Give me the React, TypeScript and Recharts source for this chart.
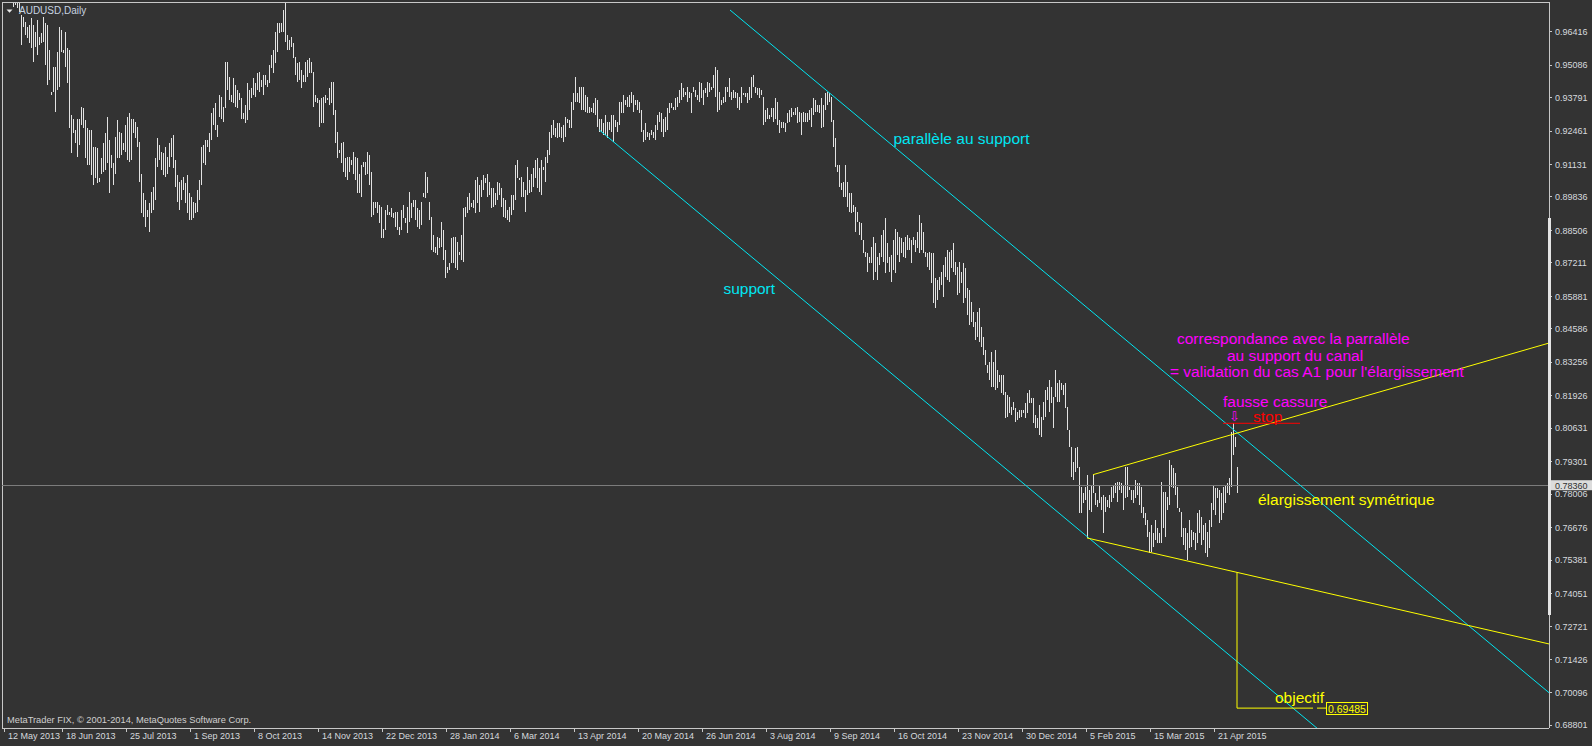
import React from 'react';
import { ComposedChart, Bar, XAxis, YAxis, ReferenceLine, ReferenceDot } from 'recharts';

const W = 1592;
const H = 746;
const BG = '#333333';
const FRAME = '#c8c8c8';
const AXIS_TEXT = '#d6dade';
const BAR_COLOR = '#e2e2e2';
const CYAN = '#00e6f2';
const MAGENTA = '#ff00ff';
const YELLOW = '#ffff00';
const RED = '#ff0000';
const FONT = '"Liberation Sans", Arial, sans-serif';

// first daily bar index drawn (index 0 = 12 May 2013)
const FIRST_BAR = 5;

const highs = [
  0.9830, 0.9790, 0.9770, 0.9775, 0.9708, 0.9701, 0.9681, 0.9662, 0.9668, 0.9695,
  0.9668, 0.9642, 0.9688, 0.9622, 0.9635, 0.9701, 0.9675, 0.9668, 0.9568, 0.9403,
  0.9502, 0.9502, 0.9562, 0.9662, 0.9648, 0.9568, 0.9642, 0.9575, 0.9568, 0.9310,
  0.9296, 0.9250, 0.9296, 0.9296, 0.9343, 0.9336, 0.9290, 0.9257, 0.9250, 0.9250,
  0.9184, 0.9184, 0.9177, 0.9058, 0.9137, 0.9197, 0.9237, 0.9303, 0.9210, 0.9150,
  0.9117, 0.9223, 0.9290, 0.9243, 0.9237, 0.9197, 0.9270, 0.9303, 0.9316, 0.9296,
  0.9296, 0.9283, 0.9263, 0.9204, 0.9077, 0.8998, 0.8971, 0.8931, 0.8958, 0.9004,
  0.9024, 0.9137, 0.9217, 0.9190, 0.9164, 0.9157, 0.9184, 0.9144, 0.9197, 0.9217,
  0.9230, 0.9130, 0.9071, 0.9044, 0.9051, 0.9064, 0.9038, 0.9071, 0.8998, 0.8985,
  0.8965, 0.8958, 0.9011, 0.9051, 0.9184, 0.9190, 0.9210, 0.9210, 0.9237, 0.9316,
  0.9336, 0.9356, 0.9270, 0.9389, 0.9383, 0.9343, 0.9522, 0.9522, 0.9462, 0.9389,
  0.9456, 0.9429, 0.9409, 0.9396, 0.9376, 0.9316, 0.9350, 0.9436, 0.9409, 0.9416,
  0.9456, 0.9436, 0.9476, 0.9482, 0.9449, 0.9469, 0.9469, 0.9449, 0.9509, 0.9548,
  0.9568, 0.9642, 0.9675, 0.9675, 0.9675, 0.9728, 0.9757, 0.9628, 0.9608, 0.9622,
  0.9595, 0.9542, 0.9515, 0.9522, 0.9489, 0.9469, 0.9522, 0.9529, 0.9535, 0.9522,
  0.9482, 0.9389, 0.9376, 0.9370,
  0.9376, 0.9383, 0.9389, 0.9376, 0.9416, 0.9443, 0.9443, 0.9330, 0.9243, 0.9170,
  0.9197, 0.9204, 0.9137, 0.9144, 0.9144, 0.9130, 0.9164, 0.9144, 0.9137, 0.9077,
  0.9111, 0.9124, 0.9124, 0.9164, 0.9150, 0.9084, 0.8965, 0.8965, 0.8965, 0.8951,
  0.8945, 0.8858, 0.8931, 0.8951, 0.8925, 0.8938, 0.8918, 0.8925, 0.8925, 0.8865,
  0.8931, 0.8951, 0.8898, 0.8945, 0.9004, 0.8958, 0.8971, 0.8971, 0.8938, 0.8931,
  0.8965, 0.8998, 0.9084, 0.9064, 0.8965, 0.8905, 0.8832, 0.8785, 0.8825, 0.8819,
  0.8885, 0.8852, 0.8772, 0.8706, 0.8719, 0.8819, 0.8825, 0.8825, 0.8805, 0.8766,
  0.8832, 0.8938, 0.8945, 0.8985, 0.8998, 0.8958, 0.8971, 0.9051, 0.9064, 0.9031,
  0.9051, 0.9071, 0.9058, 0.9077, 0.9044, 0.9018, 0.9018, 0.8998, 0.9044, 0.9038,
  0.9018, 0.8978, 0.8971, 0.8931, 0.8945, 0.8991, 0.8991, 0.9111, 0.9130, 0.9058,
  0.9064, 0.9044, 0.9011, 0.9104, 0.9051, 0.9077, 0.9097, 0.9130, 0.9137, 0.9097,
  0.9130, 0.9104, 0.9144, 0.9170, 0.9243, 0.9270, 0.9290, 0.9257, 0.9277, 0.9277,
  0.9263, 0.9270, 0.9303, 0.9296, 0.9290, 0.9363, 0.9396, 0.9462, 0.9396, 0.9423,
  0.9423, 0.9423, 0.9389, 0.9383, 0.9343, 0.9336, 0.9356, 0.9376, 0.9370, 0.9296,
  0.9296, 0.9277, 0.9310, 0.9283, 0.9283, 0.9310, 0.9310, 0.9290, 0.9283, 0.9363,
  0.9363, 0.9389, 0.9370, 0.9383, 0.9389,
  0.9403, 0.9389, 0.9370, 0.9370, 0.9363, 0.9330, 0.9250, 0.9277, 0.9243, 0.9237,
  0.9250, 0.9243, 0.9270, 0.9310, 0.9323, 0.9316, 0.9296, 0.9303, 0.9336, 0.9356,
  0.9356, 0.9343, 0.9376, 0.9383, 0.9409, 0.9436, 0.9416, 0.9403, 0.9423, 0.9403,
  0.9396, 0.9423, 0.9409, 0.9389, 0.9443, 0.9436, 0.9409, 0.9416, 0.9443, 0.9436,
  0.9423, 0.9469, 0.9502, 0.9489, 0.9403, 0.9370, 0.9383, 0.9423, 0.9423, 0.9456,
  0.9403, 0.9409, 0.9403, 0.9396, 0.9383, 0.9423, 0.9396, 0.9396, 0.9396, 0.9423,
  0.9462, 0.9469, 0.9423, 0.9416, 0.9416, 0.9409, 0.9383, 0.9330, 0.9336, 0.9310,
  0.9336, 0.9336, 0.9376, 0.9363, 0.9290, 0.9283, 0.9283, 0.9277, 0.9316, 0.9330,
  0.9336, 0.9323, 0.9336, 0.9343, 0.9323, 0.9316, 0.9323, 0.9316, 0.9316, 0.9330,
  0.9336, 0.9376, 0.9370, 0.9350, 0.9350, 0.9376, 0.9350, 0.9396, 0.9403, 0.9396,
  0.9383, 0.9290, 0.9217, 0.9111, 0.9111, 0.9038, 0.9044, 0.9111, 0.9044, 0.8998,
  0.8998, 0.8951, 0.8945, 0.8925, 0.8885, 0.8878, 0.8812, 0.8766, 0.8759, 0.8746,
  0.8785, 0.8825, 0.8799, 0.8746, 0.8759, 0.8832, 0.8852, 0.8898, 0.8799, 0.8746,
  0.8752, 0.8812, 0.8858, 0.8845, 0.8825, 0.8819, 0.8805, 0.8825, 0.8832, 0.8819,
  0.8812, 0.8825, 0.8812, 0.8845, 0.8912, 0.8878, 0.8845, 0.8766, 0.8759, 0.8766,
  0.8759, 0.8759, 0.8660, 0.8653, 0.8666, 0.8686, 0.8713, 0.8746, 0.8772, 0.8766,
  0.8772, 0.8799, 0.8726, 0.8706, 0.8726, 0.8686, 0.8719, 0.8699, 0.8620, 0.8613,
  0.8567, 0.8527, 0.8487, 0.8527, 0.8540, 0.8467, 0.8427, 0.8374, 0.8315, 0.8328,
  0.8368, 0.8328, 0.8374, 0.8295, 0.8275, 0.8275, 0.8275, 0.8208, 0.8195, 0.8188,
  0.8149, 0.8168, 0.8142, 0.8129, 0.8135, 0.8135, 0.8135, 0.8162, 0.8202, 0.8215,
  0.8182, 0.8182, 0.8115, 0.8102, 0.8155, 0.8109, 0.8168, 0.8215, 0.8228, 0.8255,
  0.8228, 0.8188, 0.8295, 0.8242, 0.8255, 0.8242, 0.8235, 0.8242, 0.8149, 0.8056,
  0.7989, 0.7930, 0.7983, 0.7989, 0.7910, 0.7830, 0.7804, 0.7830, 0.7877, 0.7817,
  0.7837, 0.7877, 0.7804, 0.7777, 0.7837, 0.7790, 0.7797, 0.7790, 0.7777, 0.7797,
  0.7830, 0.7837, 0.7843, 0.7850, 0.7850, 0.7843, 0.7837, 0.7910, 0.7910, 0.7830,
  0.7817, 0.7817, 0.7857, 0.7843, 0.7843, 0.7830, 0.7751, 0.7724, 0.7698, 0.7651,
  0.7678, 0.7645, 0.7698, 0.7664, 0.7645, 0.7850, 0.7810, 0.7810, 0.7790, 0.7936,
  0.7916, 0.7903, 0.7883, 0.7830, 0.7744, 0.7731, 0.7664, 0.7664, 0.7645, 0.7698,
  0.7658, 0.7651, 0.7645, 0.7724, 0.7737, 0.7711, 0.7678, 0.7684, 0.7651, 0.7698,
  0.7764, 0.7837, 0.7824, 0.7824, 0.7817, 0.7804, 0.7830, 0.7837, 0.7843, 0.7863,
  0.8049, 0.8082, 0.8029, 0.7910,
];

const lows = [
  0.9741, 0.9748, 0.9735, 0.9721, 0.9588, 0.9662, 0.9628, 0.9615, 0.9595, 0.9575,
  0.9522, 0.9582, 0.9548, 0.9588, 0.9595, 0.9602, 0.9509, 0.9429, 0.9449, 0.9389,
  0.9403, 0.9323, 0.9409, 0.9423, 0.9562, 0.9555, 0.9502, 0.9436, 0.9257, 0.9157,
  0.9237, 0.9197, 0.9144, 0.9190, 0.9270, 0.9257, 0.9137, 0.9111, 0.9111, 0.9071,
  0.9031, 0.9058, 0.9038, 0.9044, 0.9077, 0.9084, 0.9091, 0.9117, 0.8998, 0.9097,
  0.9031, 0.9077, 0.9137, 0.9137, 0.9150, 0.9170, 0.9164, 0.9130, 0.9124, 0.9130,
  0.9237, 0.9217, 0.9184, 0.9044, 0.8918, 0.8905, 0.8865, 0.8905, 0.8845, 0.8918,
  0.8931, 0.8971, 0.9104, 0.9130, 0.9091, 0.9071, 0.9064, 0.9077, 0.9104, 0.9144,
  0.9097, 0.9024, 0.8965, 0.8931, 0.8971, 0.9011, 0.8958, 0.8918, 0.8892, 0.8892,
  0.8898, 0.8918, 0.8925, 0.8971, 0.9031, 0.9117, 0.9111, 0.9184, 0.9164, 0.9210,
  0.9270, 0.9250, 0.9223, 0.9303, 0.9296, 0.9283, 0.9336, 0.9409, 0.9370, 0.9363,
  0.9356, 0.9343, 0.9336, 0.9370, 0.9296, 0.9296, 0.9277, 0.9290, 0.9330, 0.9376,
  0.9389, 0.9383, 0.9409, 0.9403, 0.9423, 0.9389, 0.9429, 0.9423, 0.9436, 0.9496,
  0.9476, 0.9515, 0.9562, 0.9635, 0.9642, 0.9642, 0.9602, 0.9568, 0.9568, 0.9582,
  0.9535, 0.9469, 0.9443, 0.9449, 0.9416, 0.9443, 0.9443, 0.9462, 0.9476, 0.9476,
  0.9343, 0.9363, 0.9356, 0.9263,
  0.9277, 0.9277, 0.9356, 0.9370, 0.9350, 0.9356, 0.9310, 0.9197, 0.9137, 0.9157,
  0.9117, 0.9084, 0.9064, 0.9051, 0.9084, 0.9111, 0.9077, 0.9051, 0.8998, 0.8998,
  0.8985, 0.9104, 0.9071, 0.9077, 0.9031, 0.8905, 0.8912, 0.8938, 0.8918, 0.8878,
  0.8819, 0.8819, 0.8852, 0.8912, 0.8912, 0.8905, 0.8898, 0.8865, 0.8852, 0.8832,
  0.8852, 0.8898, 0.8878, 0.8839, 0.8885, 0.8898, 0.8945, 0.8892, 0.8865, 0.8858,
  0.8872, 0.8985, 0.8978, 0.8998, 0.8892, 0.8772, 0.8766, 0.8759, 0.8752, 0.8779,
  0.8785, 0.8733, 0.8660, 0.8680, 0.8693, 0.8719, 0.8719, 0.8699, 0.8693, 0.8752,
  0.8733, 0.8726, 0.8905, 0.8918, 0.8931, 0.8945, 0.8938, 0.8918, 0.8958, 0.8925,
  0.8985, 0.9011, 0.9038, 0.8985, 0.8991, 0.8938, 0.8945, 0.8951, 0.8971, 0.8991,
  0.8945, 0.8905, 0.8898, 0.8892, 0.8885, 0.8912, 0.8931, 0.8971, 0.9058, 0.9051,
  0.8985, 0.8985, 0.8925, 0.8991, 0.8998, 0.9004, 0.9024, 0.9058, 0.9018, 0.9004,
  0.8991, 0.9091, 0.9044, 0.9117, 0.9150, 0.9217, 0.9230, 0.9223, 0.9217, 0.9223,
  0.9217, 0.9204, 0.9223, 0.9277, 0.9257, 0.9257, 0.9330, 0.9363, 0.9363, 0.9356,
  0.9330, 0.9330, 0.9323, 0.9316, 0.9316, 0.9323, 0.9316, 0.9310, 0.9263, 0.9243,
  0.9243, 0.9230, 0.9230, 0.9217, 0.9250, 0.9243, 0.9204, 0.9263, 0.9243, 0.9270,
  0.9316, 0.9316, 0.9350, 0.9343, 0.9343,
  0.9356, 0.9323, 0.9350, 0.9330, 0.9316, 0.9243, 0.9204, 0.9210, 0.9223, 0.9210,
  0.9230, 0.9217, 0.9210, 0.9250, 0.9283, 0.9243, 0.9223, 0.9243, 0.9250, 0.9316,
  0.9336, 0.9330, 0.9330, 0.9343, 0.9356, 0.9370, 0.9383, 0.9389, 0.9363, 0.9376,
  0.9316, 0.9403, 0.9383, 0.9370, 0.9363, 0.9376, 0.9350, 0.9396, 0.9383, 0.9403,
  0.9409, 0.9416, 0.9383, 0.9323, 0.9330, 0.9350, 0.9356, 0.9363, 0.9403, 0.9383,
  0.9370, 0.9376, 0.9376, 0.9336, 0.9330, 0.9356, 0.9389, 0.9383, 0.9356, 0.9370,
  0.9376, 0.9423, 0.9396, 0.9389, 0.9376, 0.9389, 0.9270, 0.9283, 0.9296, 0.9296,
  0.9303, 0.9283, 0.9296, 0.9270, 0.9237, 0.9257, 0.9257, 0.9243, 0.9277, 0.9283,
  0.9303, 0.9310, 0.9310, 0.9277, 0.9283, 0.9230, 0.9283, 0.9283, 0.9283, 0.9290,
  0.9263, 0.9310, 0.9323, 0.9323, 0.9316, 0.9257, 0.9263, 0.9330, 0.9350, 0.9363,
  0.9283, 0.9184, 0.9104, 0.9084, 0.9024, 0.9011, 0.8985, 0.8985, 0.8945, 0.8925,
  0.8918, 0.8925, 0.8845, 0.8885, 0.8832, 0.8812, 0.8759, 0.8746, 0.8686, 0.8719,
  0.8719, 0.8653, 0.8686, 0.8653, 0.8713, 0.8746, 0.8726, 0.8680, 0.8719, 0.8686,
  0.8646, 0.8693, 0.8680, 0.8752, 0.8726, 0.8759, 0.8746, 0.8739, 0.8772, 0.8772,
  0.8719, 0.8792, 0.8766, 0.8779, 0.8759, 0.8772, 0.8759, 0.8746, 0.8706, 0.8693,
  0.8640, 0.8560, 0.8540, 0.8573, 0.8613, 0.8633, 0.8587, 0.8666, 0.8653, 0.8646,
  0.8699, 0.8686, 0.8673, 0.8593, 0.8600, 0.8640, 0.8560, 0.8580, 0.8514, 0.8474,
  0.8487, 0.8467, 0.8414, 0.8427, 0.8407, 0.8388, 0.8354, 0.8315, 0.8281, 0.8255,
  0.8228, 0.8228, 0.8215, 0.8222, 0.8248, 0.8202, 0.8195, 0.8102, 0.8109, 0.8122,
  0.8115, 0.8135, 0.8089, 0.8095, 0.8102, 0.8109, 0.8122, 0.8102, 0.8122, 0.8162,
  0.8162, 0.8082, 0.8062, 0.8062, 0.8036, 0.8029, 0.8095, 0.8109, 0.8175, 0.8129,
  0.8162, 0.8062, 0.8188, 0.8168, 0.8168, 0.8215, 0.8195, 0.8142, 0.8056, 0.7989,
  0.7870, 0.7857, 0.7890, 0.7903, 0.7724, 0.7724, 0.7764, 0.7777, 0.7626, 0.7737,
  0.7731, 0.7804, 0.7757, 0.7751, 0.7764, 0.7737, 0.7645, 0.7731, 0.7751, 0.7744,
  0.7770, 0.7784, 0.7804, 0.7770, 0.7817, 0.7804, 0.7737, 0.7784, 0.7790, 0.7817,
  0.7777, 0.7764, 0.7784, 0.7797, 0.7757, 0.7724, 0.7704, 0.7678, 0.7631, 0.7565,
  0.7571, 0.7591, 0.7618, 0.7605, 0.7605, 0.7605, 0.7664, 0.7631, 0.7737, 0.7757,
  0.7830, 0.7824, 0.7797, 0.7744, 0.7731, 0.7631, 0.7598, 0.7578, 0.7538, 0.7585,
  0.7591, 0.7618, 0.7578, 0.7605, 0.7645, 0.7598, 0.7618, 0.7565, 0.7552, 0.7585,
  0.7671, 0.7737, 0.7717, 0.7784, 0.7684, 0.7698, 0.7724, 0.7764, 0.7804, 0.7797,
  0.7830, 0.7956, 0.7989, 0.7804,
];

const dateTickIdx = [0, 29, 61, 93, 125, 157, 189, 221, 253, 285, 317, 349, 381, 413, 445, 477, 509, 541, 573, 605];
const dateTickLabels = [
  '12 May 2013', '18 Jun 2013', '25 Jul 2013', '1 Sep 2013', '8 Oct 2013', '14 Nov 2013',
  '22 Dec 2013', '28 Jan 2014', '6 Mar 2014', '13 Apr 2014', '20 May 2014', '26 Jun 2014',
  '3 Aug 2014', '9 Sep 2014', '16 Oct 2014', '23 Nov 2014', '30 Dec 2014', '5 Feb 2015',
  '15 Mar 2015', '21 Apr 2015',
];
const priceTicks = [
  0.96416, 0.95086, 0.93791, 0.92461, 0.91131, 0.89836, 0.88506, 0.87211, 0.85881, 0.84586,
  0.83256, 0.81926, 0.80631, 0.79301, 0.78006, 0.76676, 0.75381, 0.74051, 0.72721, 0.71426,
  0.70096, 0.68801,
];

const X_DOMAIN: [number, number] = [-1, 772.5];
const Y_DOMAIN: [number, number] = [0.686935, 0.975985];

const lastPrice = 0.7836;
const stopPrice = 0.80825;
const targetPrice = 0.69485;

type Seg = { x1: number; y1: number; x2: number; y2: number; color: string };
const trendLines: Seg[] = [
  { x1: 297.7, y1: 0.925, x2: 700, y2: 0.658, color: CYAN },
  { x1: 363, y1: 0.9728, x2: 772.5, y2: 0.701, color: CYAN },
  { x1: 544.5, y1: 0.7878, x2: 772.5, y2: 0.8402, color: YELLOW },
  { x1: 541.5, y1: 0.7626, x2: 772.5, y2: 0.7204, color: YELLOW },
  { x1: 616.5, y1: 0.7489, x2: 616.5, y2: targetPrice, color: YELLOW },
  { x1: 616.5, y1: targetPrice, x2: 654.5, y2: targetPrice, color: YELLOW },
  { x1: 656.5, y1: targetPrice, x2: 661, y2: targetPrice, color: YELLOW },
  { x1: 609.5, y1: stopPrice, x2: 648, y2: stopPrice, color: RED },
];

type Note = { text: string; i: number; p: number; color: string; size?: number; font?: string; anchor?: string };
const notes: Note[] = [
  { text: 'parallèle au support', i: 444.7, p: 0.9195, color: CYAN },
  { text: 'support', i: 359.7, p: 0.8597, color: CYAN },
  { text: 'correspondance avec la parrallèle', i: 586.5, p: 0.8398, color: MAGENTA },
  { text: 'au support du canal', i: 611.5, p: 0.8331, color: MAGENTA },
  { text: "= validation du cas A1 pour l'élargissement", i: 583, p: 0.8267, color: MAGENTA },
  { text: 'fausse cassure', i: 609.5, p: 0.8147, color: MAGENTA },
  { text: '⇩', i: 615.25, p: 0.8090, color: MAGENTA, size: 13, font: '"DejaVu Sans", sans-serif', anchor: 'middle' },
  { text: 'stop', i: 624.5, p: 0.8088, color: RED },
  { text: 'élargissement symétrique', i: 627, p: 0.7757, color: YELLOW },
  { text: 'objectif', i: 635.5, p: 0.6967, color: YELLOW },
];

const bars = highs.map((h, k) => ({ i: FIRST_BAR + k, high: h, low: lows[k] }));

const BarShape = (props: any) => {
  const { x, y, height } = props;
  if (x == null || y == null || height == null) return null;
  const top = Math.min(y, y + height);
  const h = Math.max(1, Math.abs(height));
  return <rect x={Math.round(x)} y={top} width={1} height={h} fill={BAR_COLOR} shapeRendering="crispEdges" />;
};

const DateTick = (props: any) => {
  const { x, y, payload } = props;
  const k = dateTickIdx.indexOf(payload.value);
  return (
    <text x={x + 4} y={y + 7} fill={AXIS_TEXT} fontSize={9} fontFamily={FONT} textAnchor="start">
      {k >= 0 ? dateTickLabels[k] : ''}
    </text>
  );
};

const PriceTag = (props: any) => {
  const { cx, cy } = props;
  return (
    <g>
      <rect x={cx + 1} y={cy - 5} width={42} height={10} fill="#dcdcdc" />
      <text x={cx + 6} y={cy + 3.3} fill="#303030" fontSize={9} fontFamily={FONT}>{lastPrice.toFixed(5)}</text>
    </g>
  );
};

const TargetTag = (props: any) => {
  const { cx, cy } = props;
  return (
    <g>
      <rect x={cx + 0.5} y={cy - 5.5} width={41} height={12} fill={BG} stroke={YELLOW} strokeWidth={1} shapeRendering="crispEdges" />
      <text x={cx + 2} y={cy + 4.5} fill={YELLOW} fontSize={10.5} fontFamily={FONT}>{targetPrice.toFixed(5)}</text>
    </g>
  );
};

const makeNote = (n: Note) => (props: any) => (
  <text
    x={props.cx}
    y={props.cy}
    fill={n.color}
    fontSize={n.size ?? 15.5}
    fontFamily={n.font ?? FONT}
    textAnchor={(n.anchor as any) ?? 'start'}
  >
    {n.text}
  </text>
);

export default function App() {
  return (
    <div style={{ position: 'absolute', left: 0, top: 0, width: W, height: H, background: BG, overflow: 'hidden' }}>
      <ComposedChart width={W} height={H} data={bars} margin={{ top: 2, right: 2, bottom: 2, left: 2 }}>
        <XAxis
          dataKey="i"
          type="number"
          domain={X_DOMAIN}
          allowDataOverflow
          ticks={dateTickIdx}
          interval={0}
          height={16}
          tickSize={4}
          tickMargin={0}
          stroke={FRAME}
          axisLine={{ stroke: FRAME, shapeRendering: 'crispEdges' }}
          tickLine={{ stroke: FRAME, shapeRendering: 'crispEdges' }}
          tick={<DateTick />}
        />
        <YAxis
          orientation="right"
          type="number"
          domain={Y_DOMAIN}
          allowDataOverflow
          ticks={priceTicks}
          interval={0}
          width={41}
          tickSize={3}
          tickMargin={3}
          axisLine={{ stroke: FRAME, shapeRendering: 'crispEdges' }}
          tickLine={{ stroke: FRAME, shapeRendering: 'crispEdges' }}
          tick={{ fill: AXIS_TEXT, fontSize: 9, fontFamily: FONT }}
          tickFormatter={(v: number) => v.toFixed(5)}
        />
        <ReferenceLine x={X_DOMAIN[0]} stroke={FRAME} shapeRendering="crispEdges" ifOverflow="visible" />
        <ReferenceLine y={Y_DOMAIN[1]} stroke={FRAME} shapeRendering="crispEdges" ifOverflow="visible" />
        <ReferenceLine y={lastPrice} stroke="#7c7c7c" shapeRendering="crispEdges" />
        <Bar
          dataKey={(d: any) => [d.low, d.high]}
          barSize={1}
          isAnimationActive={false}
          shape={BarShape}
        />
        {trendLines.map((s, k) => (
          <ReferenceLine
            key={`tl${k}`}
            segment={[{ x: s.x1, y: s.y1 }, { x: s.x2, y: s.y2 }]}
            stroke={s.color}
            strokeWidth={1}
            ifOverflow="hidden"
          />
        ))}
        {notes.map((n, k) => (
          <ReferenceDot key={`n${k}`} x={n.i} y={n.p} r={0} ifOverflow="visible" shape={makeNote(n)} />
        ))}
        <ReferenceDot x={X_DOMAIN[1]} y={lastPrice} r={0} ifOverflow="visible" shape={PriceTag} />
        <ReferenceDot x={661} y={targetPrice} r={0} ifOverflow="visible" shape={TargetTag} />
      </ComposedChart>
      <div style={{ position: 'absolute', left: 1548, top: 218, width: 3, height: 397, background: '#e4e4e4' }} />
      <svg style={{ position: 'absolute', left: 0, top: 0 }} width={100} height={20}>
        <polygon points="6.5,9.5 12.5,9.5 9.5,12.8" fill="#e8e8e8" />
        <text x={19} y={14.3} fill="#c8d4e0" fontSize={10} fontFamily={FONT}>AUDUSD,Daily</text>
      </svg>
      <svg style={{ position: 'absolute', left: 0, top: 710 }} width={300} height={16}>
        <text x={7} y={13.4} fill="#cfcfcf" fontSize={9.3} fontFamily={FONT}>MetaTrader FIX, © 2001-2014, MetaQuotes Software Corp.</text>
      </svg>
    </div>
  );
}
